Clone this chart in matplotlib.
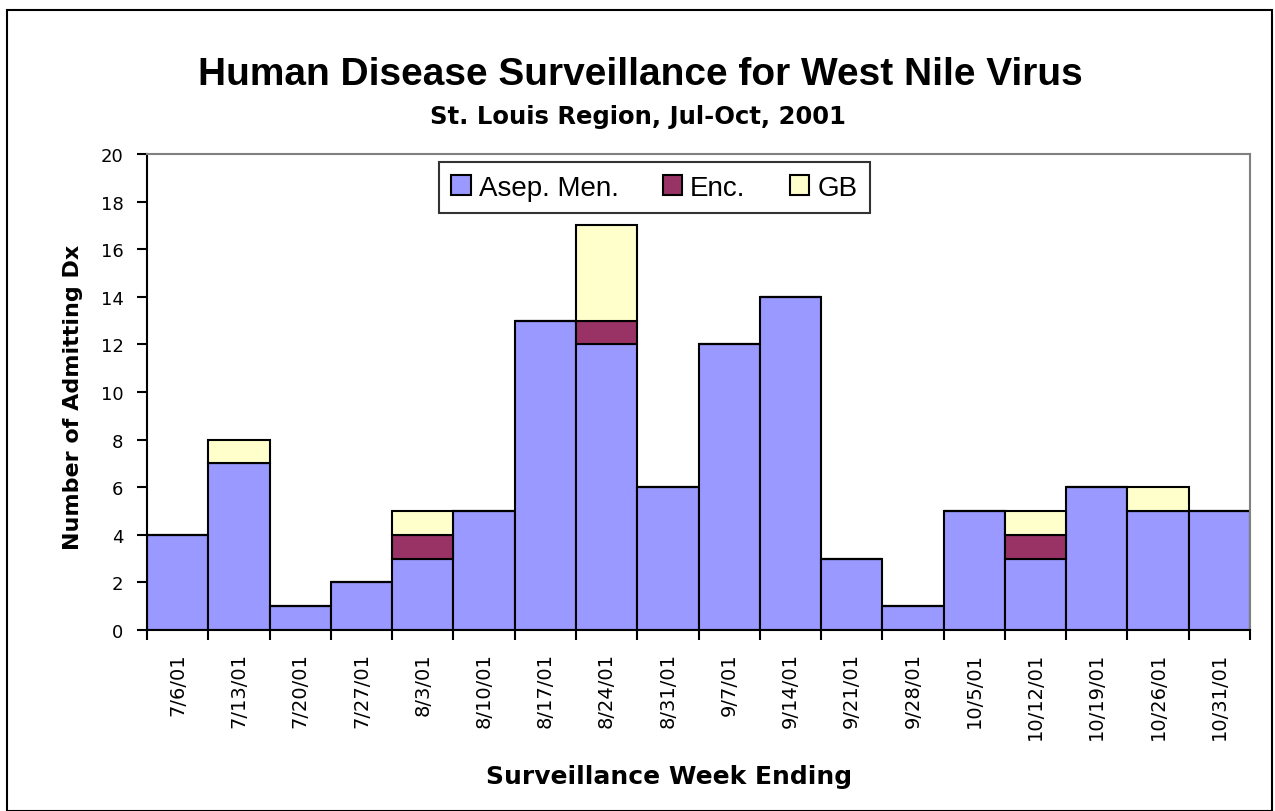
import numpy as np
import matplotlib.pyplot as plt
from matplotlib.patches import Rectangle

weeks = ['7/6/01', '7/13/01', '7/20/01', '7/27/01', '8/3/01', '8/10/01', '8/17/01',
         '8/24/01', '8/31/01', '9/7/01', '9/14/01', '9/21/01', '9/28/01', '10/5/01',
         '10/12/01', '10/19/01', '10/26/01', '10/31/01']
asep_men = [4, 7, 1, 2, 3, 5, 13, 12, 6, 12, 14, 3, 1, 5, 3, 6, 5, 5]
enc = [0, 0, 0, 0, 1, 0, 0, 1, 0, 0, 0, 0, 0, 0, 1, 0, 0, 0]
gb = [0, 1, 0, 0, 1, 0, 0, 4, 0, 0, 0, 0, 0, 0, 1, 0, 1, 0]

plt.rcParams['font.family'] = ['Liberation Sans', 'DejaVu Sans']
wide = ['DejaVu Sans']

fig = plt.figure(figsize=(12.75, 8.12), dpi=100)
fig.patches.append(Rectangle((7 / 1275, 0.0), 1265 / 1275, 1 - 11 / 812,
                             transform=fig.transFigure, fill=False,
                             edgecolor='black', linewidth=1.5))
ax = fig.add_axes([147 / 1275, 1 - 631 / 812, (1250 - 147) / 1275, (631 - 155) / 812])

x = np.arange(len(weeks)) + 0.5
a = np.array(asep_men)
e = np.array(enc)
g = np.array(gb)
ax.bar(x, a, width=1, color='#9999FF', edgecolor='black', linewidth=1.5, label='Asep. Men.')
ax.bar(x, e, width=1, bottom=a, color='#993366', edgecolor='black', linewidth=1.5, label='Enc.')
ax.bar(x, g, width=1, bottom=a + e, color='#FFFFCC', edgecolor='black', linewidth=1.5, label='GB')

ax.set_xlim(0, len(weeks))
ax.set_ylim(0, 20)
ax.set_yticks(range(0, 21, 2))
ax.set_yticklabels([str(v) for v in range(0, 21, 2)], family=wide, fontsize=13)
ax.set_xticks(range(len(weeks) + 1))
ax.set_xticklabels([])
ax.set_xticks(x, minor=True)
ax.set_xticklabels(weeks, minor=True, rotation=90, family=wide, fontsize=14)
ax.tick_params(axis='x', which='minor', length=0, pad=16)
ax.tick_params(axis='x', which='major', length=7, width=1.5, direction='out')
ax.tick_params(axis='y', length=7, width=1.5, pad=10)

for s in ['top', 'right']:
    ax.spines[s].set_color('#808080')
    ax.spines[s].set_linewidth(1.5)
for s in ['left', 'bottom']:
    ax.spines[s].set_linewidth(1.5)

ax.set_ylabel('Number of Admitting Dx', family=wide, fontsize=16, fontweight='bold')
ax.yaxis.set_label_coords(-0.058, 0.49)
ax.set_xlabel('Surveillance Week Ending', family=wide, fontsize=18, fontweight='bold')
ax.xaxis.set_label_coords(0.473, -0.282)

fig.text(0.502, 1 - 75 / 812, 'Human Disease Surveillance for West Nile Virus',
         ha='center', va='center', fontsize=28, fontweight='bold')
fig.text(0.5, 1 - 117 / 812, 'St. Louis Region, Jul-Oct, 2001',
         ha='center', va='center', family=wide, fontsize=17.5, fontweight='bold')

leg = ax.legend(loc='upper center', bbox_to_anchor=(0.46, 0.983), ncol=3, frameon=True,
                fancybox=False, edgecolor='black', fontsize=20, handlelength=0.7,
                handleheight=0.7, handletextpad=0.28, columnspacing=1.6, borderpad=0.45,
                borderaxespad=0)
leg.get_frame().set_linewidth(1.5)

fig.savefig('out.png', dpi=100)
